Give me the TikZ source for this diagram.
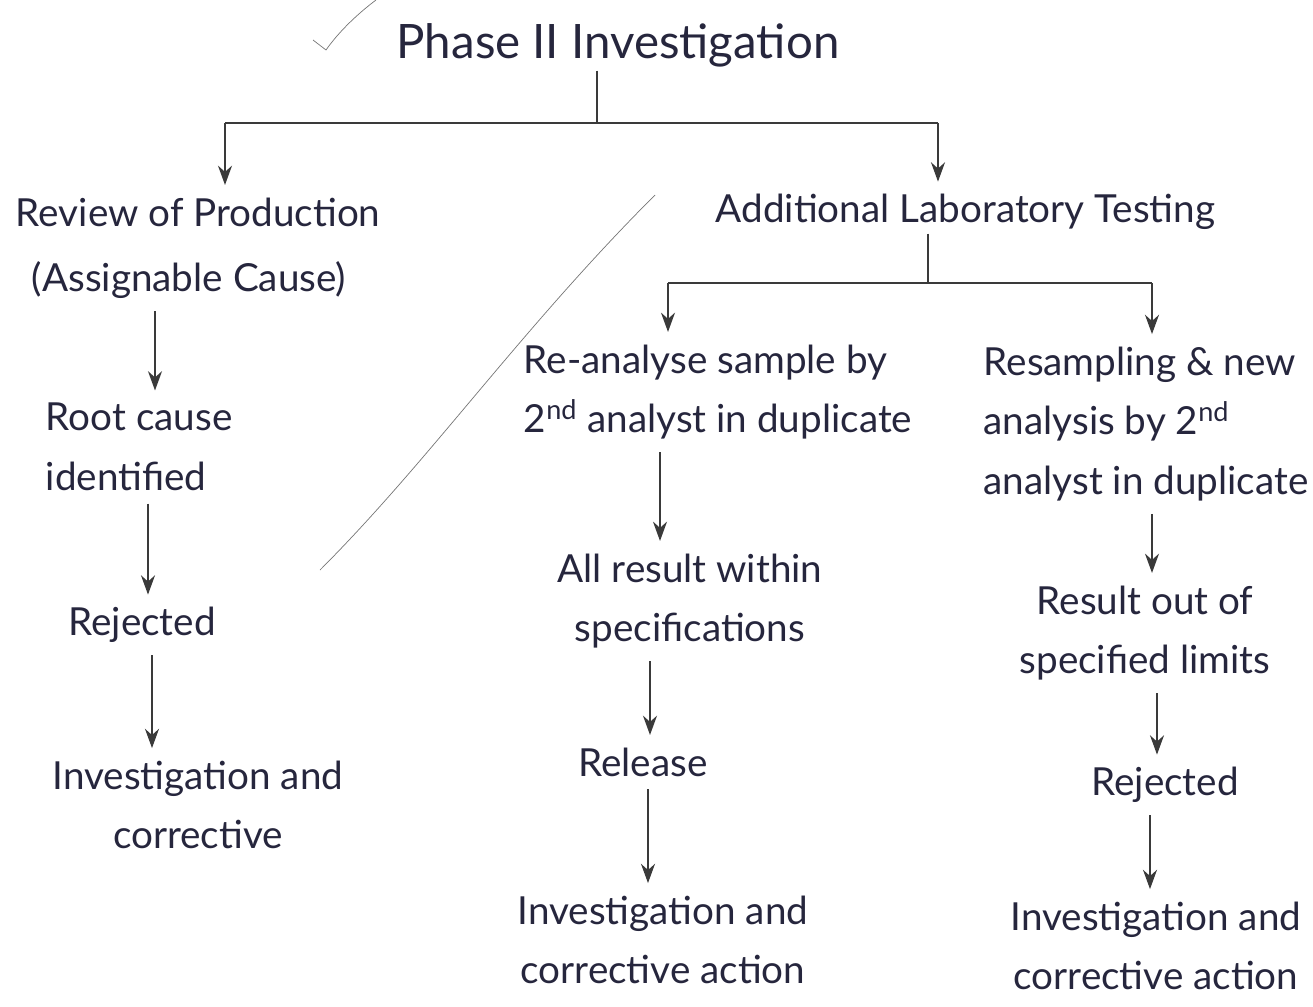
\documentclass[tikz,border=0pt]{standalone}
\usepackage{fontspec}
\setmainfont{Lato}
\usetikzlibrary{arrows.meta, calc}
\definecolor{InkBlue}{HTML}{26263D}
\definecolor{PenGrey}{HTML}{3A3A3A}
\tikzset{
    % handwritten step texts
    note/.style={
        text=InkBlue,
        font=\fontsize{22}{34}\selectfont,
        inner sep=2pt,
        align=left
    },
    note centre/.style={
        note,
        align=center
    },
    title note/.style={
        note,
        font=\fontsize{27}{32}\selectfont
    },
    branch line/.style={
        thick,
        PenGrey
    },
    arrow style/.style={
        ->,
        >={Stealth[length=11pt,width=8pt]},
        thick,
        PenGrey,
        shorten <=5pt,
        shorten >=5pt
    },
    stray mark/.style={
        thin,
        PenGrey!70
    }
}

\begin{document}
\begin{tikzpicture}[x=0.02cm, y=-0.02cm]
        \useasboundingbox (0,0) rectangle (1313,1007);

        % Title
        \node[title note] (title) at (618,45) {Phase II Investigation};

        % Left column
        \node[note, anchor=west] (review) at (12,212) {Review of Production};
        \node[note, anchor=west] (assign) at (28,280) {(Assignable Cause)};
        \node[note, anchor=west] (root) at (42,447) {Root cause\\identified};
        \node[note] (rejl) at (142,625) {Rejected};
        \node[note centre] (invl) at (198,805) {Investigation and\\corrective};

        % Middle column
        \node[note, anchor=west] (addl) at (712,212) {Additional Laboratory Testing};
        \node[note] (reana) at (718,392) {Re-analyse sample by\\2\textsuperscript{nd} analyst in duplicate};
        \node[note centre] (within) at (690,601) {All result within\\specifications};
        \node[note] (release) at (643,762) {Release};
        \node[note centre] (invm) at (663,940) {Investigation and\\corrective action};

        % Right column
        \node[note] (resamp) at (1146,424) {Resampling \& new\\analysis by 2\textsuperscript{nd}\\analyst in duplicate};
        \node[note centre] (outside) at (1145,633) {Result out of\\specified limits};
        \node[note] (rejr) at (1165,785) {Rejected};
        \node[note centre] (invr) at (1156,946) {Investigation and\\corrective action};

        % Branching under the title
        \coordinate (top split) at (597,123);
        \coordinate (left drop) at (225,123);
        \coordinate (right drop) at (938,123);
        \draw[branch line] (title.south -| top split) -- (top split);
        \draw[branch line] (left drop) -- (right drop);
        \draw[arrow style, shorten <=0pt] (left drop) -- (left drop |- review.north);
        \draw[arrow style, shorten <=0pt] (right drop) -- (right drop |- addl.north);

        % Branching under laboratory testing
        \coordinate (lab split) at (928,283);
        \coordinate (lab left) at (668,283);
        \coordinate (lab right) at (1152,283);
        \draw[branch line] (addl.south -| lab split) -- (lab split);
        \draw[branch line] (lab left) -- (lab right);
        \draw[arrow style, shorten <=0pt] (lab left) -- (lab left |- reana.north);
        \draw[arrow style, shorten <=0pt] (lab right) -- (lab right |- resamp.north);

        % Steps down each column
        \foreach \from/\to/\x in {assign/root/155, root/rejl/148, rejl/invl/152,
                reana/within/660, within/release/650, release/invm/648,
                resamp/outside/1152, outside/rejr/1157, rejr/invr/1150}
            \draw[arrow style] (\from.south -| \x,0) -- (\to.north -| \x,0);

        % Pen marks on the page
        \draw[stray mark] (313,40) -- (326,50) .. controls (340,30) and (360,12) .. (376,0);
        \draw[stray mark] (655,195) .. controls (520,330) and (430,460) .. (320,570);
    \end{tikzpicture}
\end{document}
